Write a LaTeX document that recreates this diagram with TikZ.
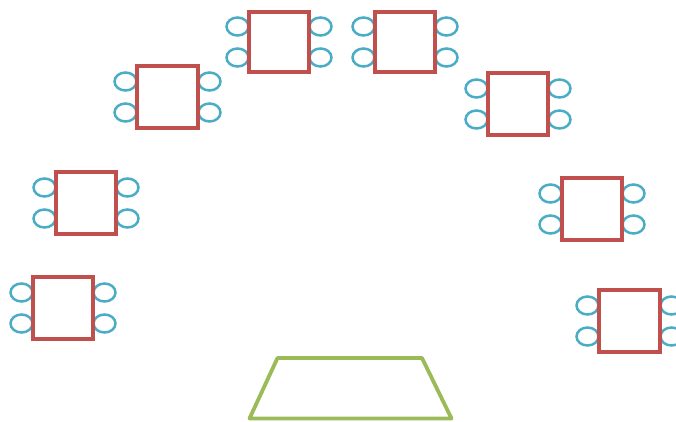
\documentclass[tikz,border=0pt]{standalone}
\usetikzlibrary{shapes.geometric}
\definecolor{deskred}{HTML}{C0504D}
\definecolor{chairblue}{HTML}{4BACC6}
\definecolor{boardgreen}{HTML}{9BBB59}
\tikzset{
  desk/.style={draw=deskred, line width=3.2pt, rectangle, inner sep=0pt, minimum width=60pt, minimum height=62pt},
  chair/.style={draw=chairblue, line width=2.5pt, ellipse, inner sep=0pt, minimum width=22pt, minimum height=18pt},
  board/.style={draw=boardgreen, line width=3.8pt, line join=round}
}
% #1 name, #2 left, #3 top, #4 right, #5 bottom
\newcommand\deskgroup[5]{%
  \node[chair] (#1cl1) at ({#2-11.5},{(#3+#5)/2-15.5}) {};
  \node[chair] (#1cl2) at ({#2-11.5},{(#3+#5)/2+15.5}) {};
  \node[chair] (#1cr1) at ({#4+11.5},{(#3+#5)/2-15.5}) {};
  \node[chair] (#1cr2) at ({#4+11.5},{(#3+#5)/2+15.5}) {};
  \node[desk, minimum width={(#4-#2)*1pt}, minimum height={(#5-#3)*1pt}] (#1) at ({(#2+#4)/2},{(#3+#5)/2}) {};
}
\begin{document}
\begin{tikzpicture}[x=1pt,y=-1pt]
\useasboundingbox (0,0) rectangle (676,421);
\deskgroup{A}{249}{12}{309}{72}
\deskgroup{B}{375}{12}{435}{72}
\deskgroup{C}{137}{66}{198}{128}
\deskgroup{D}{488}{73}{548}{135}
\deskgroup{E}{56}{172}{116}{234}
\deskgroup{F}{562}{178}{622}{240}
\deskgroup{G}{33}{277}{93}{339}
\deskgroup{H}{599}{290}{660}{352}
\coordinate (t1) at (277.5,358);
\coordinate (t2) at (422,358);
\coordinate (t3) at (451.5,418.5);
\coordinate (t4) at (249.5,418.5);
\draw[board] (t1) -- (t2) -- (t3) -- (t4) -- cycle;
\end{tikzpicture}
\end{document}
